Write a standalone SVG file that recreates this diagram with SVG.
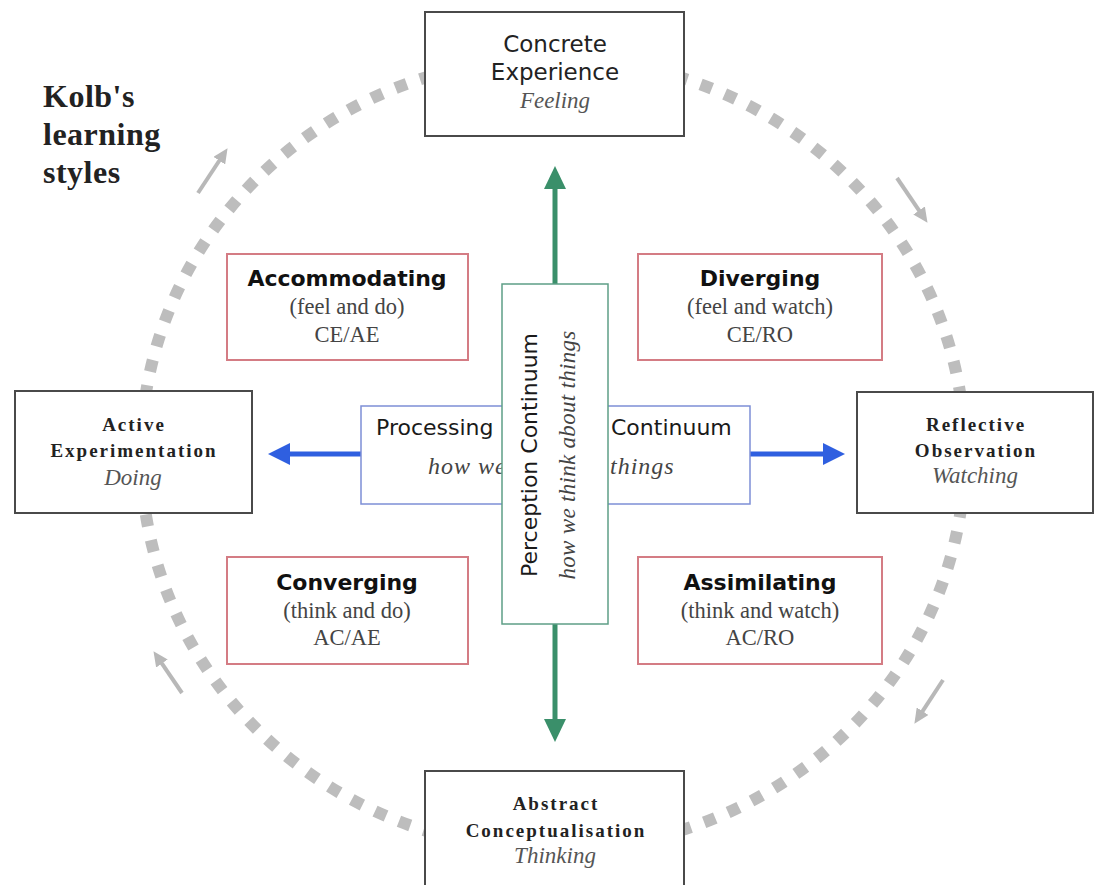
<svg xmlns="http://www.w3.org/2000/svg" width="1096" height="885" viewBox="0 0 1096 885">
<style>
.main{fill:#fff;stroke:#4a4a4a;stroke-width:2}
.sty{fill:#fff;stroke:#d47c84;stroke-width:2}
.proc{fill:#fff;stroke:#7d8fd6;stroke-width:1.5}
.perc{fill:#fff;stroke:#5e9e86;stroke-width:1.5}
.sans{font-family:"DejaVu Sans",Verdana,sans-serif}
.serif{font-family:"Liberation Serif","Times New Roman",serif}
.mid{text-anchor:middle}
.tmain{font-size:23px;fill:#222}
.tbs{font-size:19px;font-weight:bold;letter-spacing:2px;fill:#222}
.tit{font-size:23px;font-style:italic;fill:#555}
.tsty{font-size:22px;font-weight:bold;fill:#111}
.tsub{font-size:22.5px;fill:#444}
.tproc{font-size:22px;fill:#1a1a1a}
.tpit{font-size:24px;font-style:italic;letter-spacing:1px;fill:#444}
.title{font-size:32px;font-weight:bold;letter-spacing:0.5px;fill:#222}
.cycle{fill:none;stroke:#bdbdbd;stroke-width:12;stroke-dasharray:12 14}
.garrow{stroke:#b8b8b8;stroke-width:4;fill:none}
.green{stroke:#3a8f6a;stroke-width:5;fill:none}
.blue{stroke:#2f5fe0;stroke-width:5;fill:none}
</style>
<defs>
<marker id="mGreen" markerUnits="userSpaceOnUse" markerWidth="24" markerHeight="22" refX="2" refY="11" orient="auto"><path d="M0,0 L23,11 L0,22 z" fill="#3a8f6a"/></marker>
<marker id="mBlue" markerUnits="userSpaceOnUse" markerWidth="24" markerHeight="22" refX="2" refY="11" orient="auto"><path d="M0,0 L22,11 L0,22 z" fill="#2f5fe0"/></marker>
<marker id="mGray" markerUnits="userSpaceOnUse" markerWidth="16" markerHeight="14" refX="2" refY="7" orient="auto"><path d="M0,0 L15,7 L0,14 z" fill="#b8b8b8"/></marker>
</defs>
<rect x="0" y="0" width="1096" height="885" fill="#fff"/>

<g id="connectors">
<ellipse class="cycle" cx="553" cy="454" rx="412" ry="396"/>
<line class="garrow" x1="198" y1="193" x2="220.4" y2="159" marker-end="url(#mGray)"/>
<line class="garrow" x1="897" y1="178" x2="920.2" y2="212.1" marker-end="url(#mGray)"/>
<line class="garrow" x1="943" y1="680" x2="921.5" y2="712.9" marker-end="url(#mGray)"/>
<line class="garrow" x1="182" y1="693" x2="160.8" y2="661.9" marker-end="url(#mGray)"/>
<line class="green" x1="555" y1="284" x2="555" y2="187" marker-end="url(#mGreen)"/>
<line class="green" x1="555" y1="624" x2="555" y2="721" marker-end="url(#mGreen)"/>
<line class="blue" x1="361" y1="454" x2="288" y2="454" marker-end="url(#mBlue)"/>
<line class="blue" x1="750" y1="454" x2="825" y2="454" marker-end="url(#mBlue)"/>
</g>

<g id="title">
<text class="serif title" x="43" y="107">Kolb's</text>
<text class="serif title" x="43" y="145">learning</text>
<text class="serif title" x="43" y="183">styles</text>
</g>

<g id="concrete-experience">
<rect class="main" x="425" y="12" width="259" height="124"/>
<text class="sans mid tmain" x="555" y="52">Concrete</text>
<text class="sans mid tmain" x="555" y="80">Experience</text>
<text class="serif mid tit" x="555" y="108">Feeling</text>
</g>

<g id="active-experimentation">
<rect class="main" x="15" y="391" width="237" height="122"/>
<text class="serif mid tbs" x="134" y="431">Active</text>
<text class="serif mid tbs" x="134" y="457">Experimentation</text>
<text class="serif mid tit" x="133" y="485">Doing</text>
</g>

<g id="reflective-observation">
<rect class="main" x="857" y="392" width="236" height="121"/>
<text class="serif mid tbs" x="976" y="431">Reflective</text>
<text class="serif mid tbs" x="976" y="457">Observation</text>
<text class="serif mid tit" x="975" y="483">Watching</text>
</g>

<g id="abstract-conceptualisation">
<rect class="main" x="425" y="771" width="259" height="130"/>
<text class="serif mid tbs" x="556" y="810">Abstract</text>
<text class="serif mid tbs" x="556" y="837">Conceptualisation</text>
<text class="serif mid tit" x="555" y="863">Thinking</text>
</g>

<g id="accommodating">
<rect class="sty" x="227" y="254" width="241" height="106"/>
<text class="sans mid tsty" x="347" y="286">Accommodating</text>
<text class="serif mid tsub" x="347" y="314">(feel and do)</text>
<text class="serif mid tsub" x="347" y="342">CE/AE</text>
</g>

<g id="diverging">
<rect class="sty" x="638" y="254" width="244" height="106"/>
<text class="sans mid tsty" x="760" y="286">Diverging</text>
<text class="serif mid tsub" x="760" y="314">(feel and watch)</text>
<text class="serif mid tsub" x="760" y="342">CE/RO</text>
</g>

<g id="converging">
<rect class="sty" x="227" y="557" width="241" height="107"/>
<text class="sans mid tsty" x="347" y="590">Converging</text>
<text class="serif mid tsub" x="347" y="618">(think and do)</text>
<text class="serif mid tsub" x="347" y="645">AC/AE</text>
</g>

<g id="assimilating">
<rect class="sty" x="638" y="557" width="244" height="107"/>
<text class="sans mid tsty" x="760" y="590">Assimilating</text>
<text class="serif mid tsub" x="760" y="618">(think and watch)</text>
<text class="serif mid tsub" x="760" y="645">AC/RO</text>
</g>

<g id="processing-continuum">
<rect class="proc" x="361" y="406" width="389" height="98"/>
<text class="sans tproc" x="376" y="435">Processing</text>
<text class="sans tproc" x="611" y="435">Continuum</text>
<text class="serif tpit" x="428" y="474">how we</text>
<text class="serif tpit" x="577" y="474">do things</text>
</g>

<g id="perception-continuum">
<rect class="perc" x="502" y="284" width="106" height="340"/>
<text class="sans mid tproc" transform="translate(537,455) rotate(-90)" x="0" y="0">Perception Continuum</text>
<text class="serif mid tpit" style="font-size:23px;letter-spacing:0.3px" transform="translate(575,455) rotate(-90)" x="0" y="0">how we think about things</text>
</g>
</svg>
